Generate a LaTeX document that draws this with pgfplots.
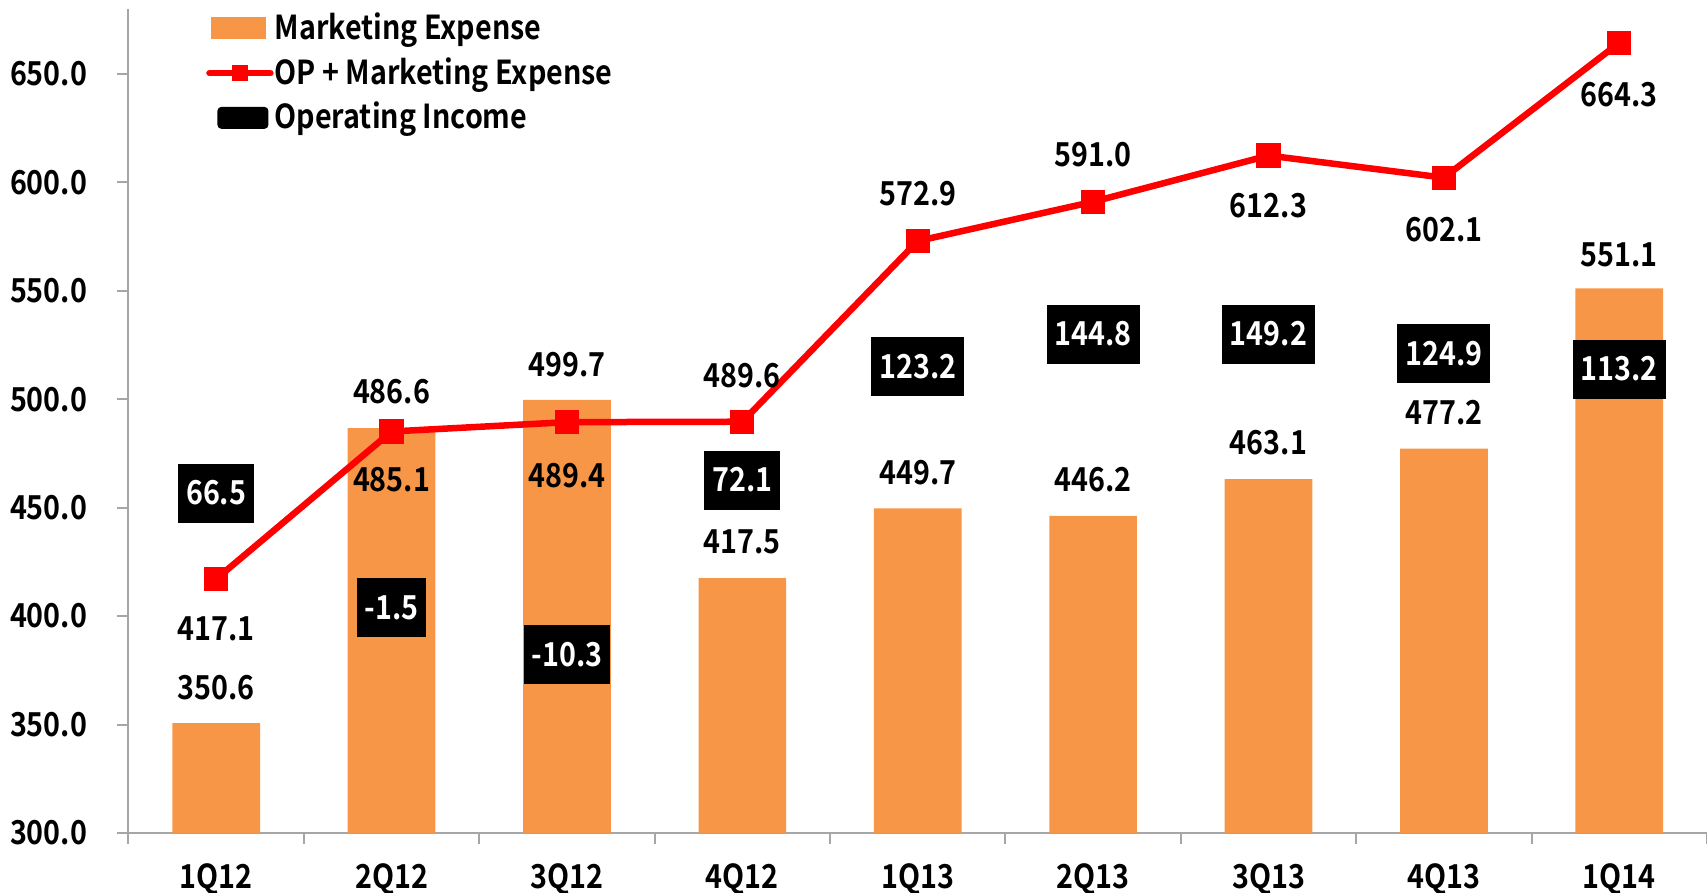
\documentclass[border=0pt]{standalone}
\usepackage{fontspec}
\setmainfont{Noto Sans CJK KR}[UprightFont=* Bold, BoldFont=* Bold, FakeStretch=0.87]
\usepackage{pgfplots}
\pgfplotsset{compat=1.18}
\usepackage{pgfplotstable}
\definecolor{mkt}{HTML}{F79646}
\definecolor{axisgray}{HTML}{A6A6A6}

\pgfplotstableread{
x y
0 350.6
1 486.6
2 499.7
3 417.5
4 449.7
5 446.2
6 463.1
7 477.2
8 551.1
}\mktdata

\pgfplotstableread{
x y
0 417.1
1 485.1
2 489.4
3 489.6
4 572.9
5 591.0
6 612.3
7 602.1
8 664.3
}\opmdata

\pgfplotstableread{
x y lab
0 456.7 66.5
1 404.0 -1.5
2 382.4 -10.3
3 462.7 72.1
4 514.9 123.2
5 530.0 144.8
6 530.0 149.2
7 521.0 124.9
8 513.9 113.2
}\oilab

\pgfplotstableread{
x y lab
0 366.8 350.6
1 503.4 486.6
2 515.9 499.7
3 434.1 417.5
4 466.2 449.7
5 462.7 446.2
6 479.8 463.1
7 493.8 477.2
8 566.6 551.1
}\mktlab

\pgfplotstableread{
x y lab
0 393.9 417.1
1 462.7 485.1
2 464.7 489.4
3 510.9 489.6
4 594.8 572.9
5 612.8 591.0
6 589.2 612.3
7 578.2 602.1
8 640.5 664.3
}\opmlab

\begin{document}
\fontsize{16.5}{19}\selectfont
\begin{tikzpicture}[font=\fontsize{16.5}{19}\selectfont]
\begin{axis}[
  scale only axis, width=789.25pt, height=412.15pt,
  xmin=-0.5, xmax=8.5, ymin=300, ymax=680,
  axis x line=bottom, axis y line=left,
  axis line style={draw=axisgray, line width=1pt, -},
  tick style={draw=axisgray, line width=1pt},
  tick align=outside, major tick length=5.5pt, minor tick length=5.5pt,
  ytick={300,350,...,650},
  /pgf/number format/assume math mode=true,
  yticklabel style={/pgf/number format/fixed, /pgf/number format/fixed zerofill, /pgf/number format/precision=1, xshift=-9.5pt},
  xtick={0,1,...,8},
  xticklabels={1Q12,2Q12,3Q12,4Q12,1Q13,2Q13,3Q13,4Q13,1Q14},
  major x tick style={draw=none},
  minor xtick={-0.5,0.5,...,8.5},
  xticklabel style={yshift=-4pt},
  legend style={at={(axis description cs:0.049,0.997)}, anchor=north west, draw=none, fill=none, inner sep=0pt, row sep=5.5pt, nodes={inner sep=0.5pt, anchor=west}},
  legend cell align=left,
]
\addplot[ybar, bar width=0.5, fill=mkt, draw=none,
  legend image code/.code={\path[draw=none,fill=none] (0pt,-6pt) rectangle (28.5pt,6pt); \fill[mkt, draw=none] (0pt,-5.5pt) rectangle (27.5pt,5.5pt);}]
  table[x=x,y=y]{\mktdata};
\addlegendentry{Marketing Expense}
\addplot[red, line width=3.25pt, mark=square*, mark size=5.8pt, mark options={solid, fill=red, draw=red, line width=0pt},
  legend image code/.code={\path[draw=none,fill=none] (0pt,-6pt) rectangle (28.5pt,6pt); \draw[red, fill=none, line width=3.2pt, line cap=round] (-1pt,0pt) -- (29.5pt,0pt); \fill[red, draw=none] (10.5pt,-4pt) rectangle (18.5pt,4pt);}]
  table[x=x,y=y]{\opmdata};
\addlegendentry{OP + Marketing Expense}
\addplot[only marks, mark=none, nodes near coords, point meta=explicit symbolic,
  every node near coord/.append style={anchor=center, fill=black, text=white, inner xsep=4pt, inner ysep=0pt, minimum height=29.5pt},
  legend image code/.code={\path[draw=none,fill=none] (0pt,-6pt) rectangle (28.5pt,6pt); \fill[black, draw=none, rounded corners=2pt] (3pt,-5.5pt) rectangle (28.5pt,5.5pt);}]
  table[x=x,y=y,meta=lab]{\oilab};
\addlegendentry{Operating Income}
\addplot[forget plot, only marks, mark=none, nodes near coords, point meta=explicit symbolic,
  every node near coord/.append style={anchor=center, text=black, inner sep=0pt}]
  table[x=x,y=y,meta=lab]{\mktlab};
\addplot[forget plot, only marks, mark=none, nodes near coords, point meta=explicit symbolic,
  every node near coord/.append style={anchor=center, text=black, inner sep=0pt}]
  table[x=x,y=y,meta=lab]{\opmlab};
\end{axis}
\pgfresetboundingbox
\path (-64.25pt,-30pt) rectangle (789.25pt,416.5pt);
\end{tikzpicture}
\end{document}
